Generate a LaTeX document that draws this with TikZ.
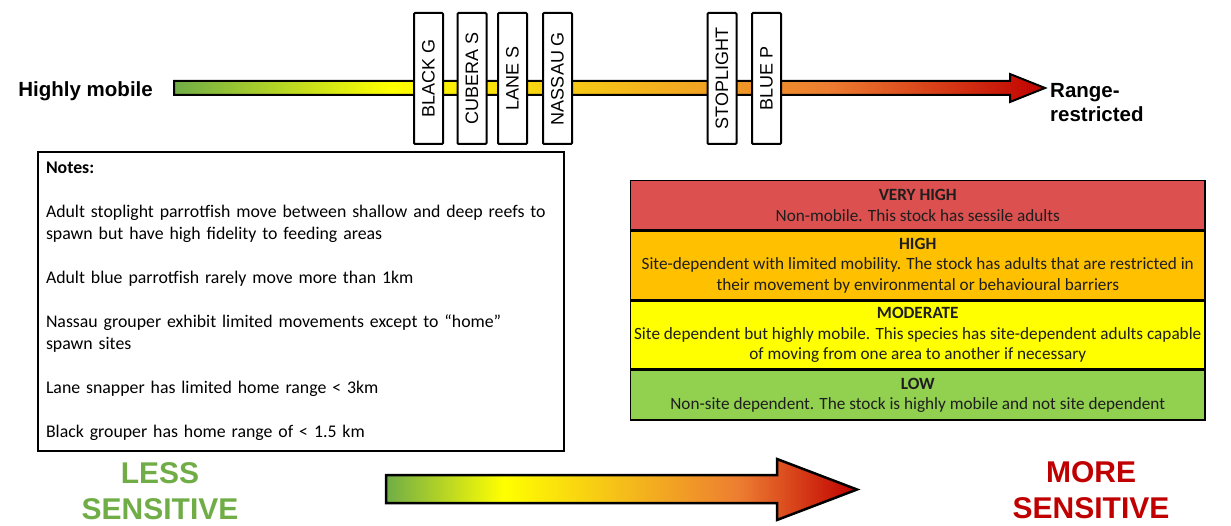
\documentclass[tikz,border=0pt]{standalone}
\usepackage{fontspec}
\setmainfont{Carlito}
\newfontfamily\arialfont{Liberation Sans}
\usetikzlibrary{positioning}
\definecolor{lessgreen}{RGB}{112,173,71}
\definecolor{baryellow}{RGB}{255,255,0}
\definecolor{amber}{RGB}{245,190,25}
\definecolor{burntorange}{RGB}{237,125,49}
\definecolor{morered}{RGB}{192,0,0}
\definecolor{veryhighred}{RGB}{220,80,80}
\definecolor{highorange}{RGB}{255,192,0}
\definecolor{moderateyellow}{RGB}{255,255,0}
\definecolor{lowgreen}{RGB}{146,208,80}
\definecolor{rowtext}{RGB}{30,30,30}
\pgfdeclarehorizontalshading{mobility}{100bp}{color(0bp)=(lessgreen); color(25bp)=(lessgreen); color(37.5bp)=(baryellow); color(50bp)=(amber); color(62.5bp)=(burntorange); color(75bp)=(morered); color(100bp)=(morered)}

\begin{document}
\begin{tikzpicture}[
    x=1pt, y=-1pt,
    species/.style={draw, line width=2pt, fill=white, rounded corners=1pt, rotate=90, minimum width=131pt, minimum height=29pt, inner sep=0pt, font=\arialfont\fontsize{18}{18}\selectfont},
    scalelabel/.style={inner sep=0pt, align=left, font=\arialfont\bfseries\fontsize{20.5}{24.5}\selectfont},
    riskrow/.style={draw, line width=1.5pt, minimum width=574.5pt, inner sep=0pt, align=center, text=rowtext, font=\fontsize{17.2}{20.5}\selectfont},
    sensitivity/.style={inner sep=0pt, align=center, font=\arialfont\bfseries\fontsize{30}{36}\selectfont}
]
\useasboundingbox (0,0) rectangle (1231,526);

\shadedraw[shading=mobility, line width=2pt] (174,81) -- (1010,81) -- (1010,74) -- (1045,88) -- (1010,102) -- (1010,95) -- (174,95) -- cycle;
\node (highly_mobile) [scalelabel, anchor=base east] at (153,97) {Highly mobile};
\node (range_restricted) [scalelabel, anchor=north west] at (1050,83) {Range-\\restricted};

\node (black_g) [species] at (428.5,78.5) {BLACK G};
\node (cubera_s) [species] at (472,78.5) {CUBERA S};
\node (lane_s) [species] at (512.5,78.5) {LANE S};
\node (nassau_g) [species] at (557.5,78.5) {NASSAU G};
\node (stoplight) [species] at (722,78.5) {STOPLIGHT};
\node (blue_p) [species] at (766.5,78.5) {BLUE P};

\node (notes) [draw, line width=2pt, minimum width=526pt, minimum height=299pt, text width=510pt, inner xsep=8pt, align=left, font=\fontsize{17.8}{22}\selectfont] at (301,301.5) {\textbf{Notes:}\\[22pt]
Adult stoplight parrotfish move between shallow and deep reefs to\\
spawn but have high fidelity to feeding areas\\[22pt]
Adult blue parrotfish rarely move more than 1km\\[22pt]
Nassau grouper exhibit limited movements except to “home”\\
spawn sites\\[22pt]
Lane snapper has limited home range < 3km\\[22pt]
Black grouper has home range of < 1.5 km};

\node (very_high) [riskrow, fill=veryhighred, minimum height=49.5pt, anchor=north west] at (629.75,179.75) {\textbf{VERY HIGH}\\Non-mobile. This stock has sessile adults};
\node (high) [riskrow, fill=highorange, minimum height=68pt, below=0pt of very_high] {\textbf{HIGH}\\Site-dependent with limited mobility. The stock has adults that are restricted in\\their movement by environmental or behavioural barriers};
\node (moderate) [riskrow, fill=moderateyellow, minimum height=68pt, below=0pt of high] {\textbf{MODERATE}\\Site dependent but highly mobile. This species has site-dependent adults capable\\of moving from one area to another if necessary};
\node (low) [riskrow, fill=lowgreen, minimum height=49.5pt, below=0pt of moderate] {\textbf{LOW}\\Non-site dependent. The stock is highly mobile and not site dependent};

\shadedraw[shading=mobility, line width=2.5pt] (386,475) -- (777,475) -- (777,459) -- (857,489.5) -- (777,520) -- (777,503) -- (386,503) -- cycle;
\node (less_sensitive) [sensitivity, text=lessgreen] at (160,491) {LESS\\SENSITIVE};
\node (more_sensitive) [sensitivity, text=morered] at (1091,490) {MORE\\SENSITIVE};
\end{tikzpicture}
\end{document}
